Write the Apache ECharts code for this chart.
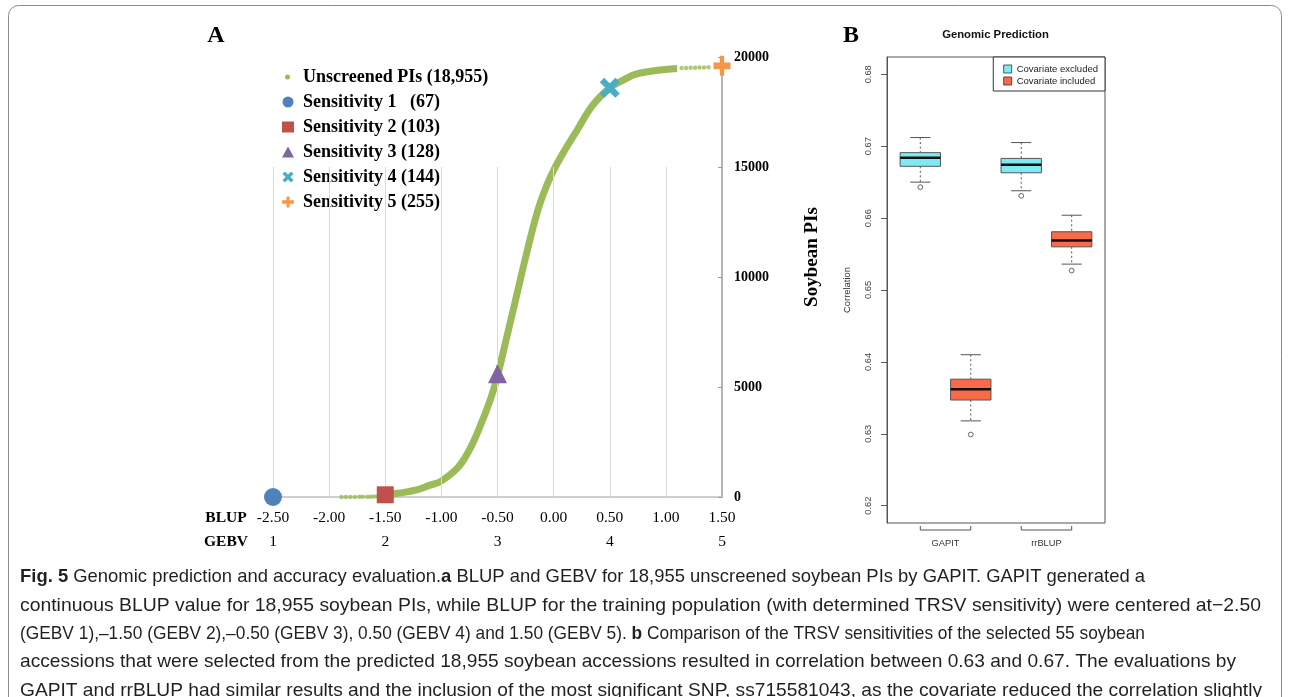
<!DOCTYPE html>
<html><head><meta charset="utf-8">
<script src="https://cdn.jsdelivr.net/npm/echarts@6/dist/echarts.min.js"></script>
<style>html,body{margin:0;padding:0;background:#fff}#c{width:1290px;height:697px}</style>
</head><body><div id="c"></div>
<script>
// ---------- Panel A data ----------
const blupTicks = [-2.5, -2, -1.5, -1, -0.5, 0, 0.5, 1, 1.5];
const gebvPositions = [-2.5, -1.5, -0.5, 0.5, 1.5];
const gebvLabels = ['1', '2', '3', '4', '5'];
const gridlineTop = 15000;
const curveBlup = [-1.50,-1.37,-1.22,-1.10,-1.01,-0.86,-0.76,-0.66,-0.56,-0.50,-0.43,-0.36,-0.24,-0.14,-0.06,0.01,0.10,0.21,0.35,0.50,0.62,0.74,0.95,1.10];
const curveRank = [110,180,320,540,700,1300,2050,3150,4480,5500,7000,8500,11090,13050,14180,14950,15770,16680,17820,18590,18950,19230,19410,19480];
const leftTailBlup = [-1.89,-1.85,-1.81,-1.77,-1.73,-1.70,-1.66,-1.63,-1.60,-1.57,-1.54];
const leftTailRank = [1,2,3,5,7,9,12,16,21,28,38];
const rightTailBlup = [1.14,1.18,1.22,1.26,1.30,1.34,1.38];
const rightTailRank = [19500,19505,19510,19515,19520,19525,19530];
const unscreenedName = 'Unscreened PIs (18,955)';
const sensitivityNames = ['Sensitivity 1   (67)', 'Sensitivity 2 (103)', 'Sensitivity 3 (128)', 'Sensitivity 4 (144)', 'Sensitivity 5 (255)'];
const sensitivityBlup = [-2.5, -1.5, -0.5, 0.5, 1.5];
const sensitivityRank = [0, 100, 5600, 18600, 19600];

// ---------- Panel B data ----------
const methodNames = ['GAPIT', 'rrBLUP'];
const covariateNames = ['Covariate excluded', 'Covariate included'];
const excludedPos = [1, 3];
const includedPos = [2, 4];
// [lower whisker, Q1, median, Q3, upper whisker]
const excludedStats = [[0.6650, 0.6672, 0.6684, 0.6691, 0.6712], [0.6638, 0.6663, 0.6674, 0.6683, 0.6705]];
const includedStats = [[0.6318, 0.6347, 0.6362, 0.6376, 0.6410], [0.6536, 0.6560, 0.6569, 0.6581, 0.6604]];
const excludedOutliers = [0.6643, 0.6631];
const includedOutliers = [0.6299, 0.6527];
const corrTicks = [0.62, 0.63, 0.64, 0.65, 0.66, 0.67, 0.68];
const corrMin = 0.6176, corrMax = 0.6824;

const captionLines = [
  '{b|Fig. 5} Genomic prediction and accuracy evaluation.{b|a} BLUP and GEBV for 18,955 unscreened soybean PIs by GAPIT. GAPIT generated a',
  'continuous BLUP value for 18,955 soybean PIs, while BLUP for the training population (with determined TRSV sensitivity) were centered at\u22122.50',
  '(GEBV 1),\u20131.50 (GEBV 2),\u20130.50 (GEBV 3), 0.50 (GEBV 4) and 1.50 (GEBV 5). {b|b} Comparison of the TRSV sensitivities of the selected 55 soybean',
  'accessions that were selected from the predicted 18,955 soybean accessions resulted in correlation between 0.63 and 0.67. The evaluations by',
  'GAPIT and rrBLUP had similar results and the inclusion of the most significant SNP, ss715581043, as the covariate reduced the correlation slightly'
];
const captionWidths = [1125, 1241, 1125, 1216, 1242];

// ---------- styles ----------
const serif = "'Liberation Serif','Times New Roman',serif";
const sans = "'Liberation Sans',Arial,sans-serif";
const capFont = "'Liberation Sans',Arial,sans-serif";
const capSize = 18.6;
const green = '#9BBB59';
const sensColors = ['#4F81BD', '#C0504D', '#8064A2', '#4BACC6', '#F79646'];
const xPath = 'path://M0,2.2L2.2,0L5,2.8L7.8,0L10,2.2L7.2,5L10,7.8L7.8,10L5,7.2L2.2,10L0,7.8L2.8,5Z';
const plusPath = 'path://M6,0H10V5H16V10H10V15H6V10H0V5H6Z';
const sensSymbols = ['circle', 'rect', 'triangle', xPath, plusPath];
const sensSizes = [18, 17, 19, 20, [17, 20]];
const boxColors = ['#7DEBF1', '#F96A4B'];

const chart = echarts.init(document.getElementById('c'));

// text measuring for caption fitting
const mctx = document.createElement('canvas').getContext('2d');
function measureRich(line) {
  let w = 0;
  const re = /\{b\|([^}]*)\}/g;
  let last = 0, m;
  while ((m = re.exec(line)) !== null) {
    mctx.font = capSize + 'px ' + capFont; w += mctx.measureText(line.slice(last, m.index)).width;
    mctx.font = 'bold ' + capSize + 'px ' + capFont; w += mctx.measureText(m[1]).width;
    last = re.lastIndex;
  }
  mctx.font = capSize + 'px ' + capFont; w += mctx.measureText(line.slice(last)).width;
  return w;
}

function boxRender(params, api) {
  const x = api.value(0);
  const v = [api.value(1), api.value(2), api.value(3), api.value(4), api.value(5)];
  const out = api.value(6);
  const bw = 0.4, cw = 0.2;
  const c = (a, b) => api.coord([a, b]);
  const stroke = '#555';
  const pMin = c(x, v[0]), pQ1 = c(x, v[1]), pQ3 = c(x, v[3]), pMax = c(x, v[4]);
  const capMinL = c(x - cw, v[0]), capMinR = c(x + cw, v[0]);
  const capMaxL = c(x - cw, v[4]), capMaxR = c(x + cw, v[4]);
  const tl = c(x - bw, v[3]), br = c(x + bw, v[1]);
  const mL = c(x - bw, v[2]), mR = c(x + bw, v[2]);
  const po = c(x, out);
  return {
    type: 'group',
    children: [
      {type: 'line', shape: {x1: pMax[0], y1: pMax[1], x2: pQ3[0], y2: pQ3[1]}, style: {stroke, lineWidth: 1, lineDash: [2, 2.5]}},
      {type: 'line', shape: {x1: pQ1[0], y1: pQ1[1], x2: pMin[0], y2: pMin[1]}, style: {stroke, lineWidth: 1, lineDash: [2, 2.5]}},
      {type: 'line', shape: {x1: capMaxL[0], y1: capMaxL[1], x2: capMaxR[0], y2: capMaxR[1]}, style: {stroke, lineWidth: 1}},
      {type: 'line', shape: {x1: capMinL[0], y1: capMinL[1], x2: capMinR[0], y2: capMinR[1]}, style: {stroke, lineWidth: 1}},
      {type: 'rect', shape: {x: tl[0], y: tl[1], width: br[0] - tl[0], height: br[1] - tl[1]}, style: {fill: api.visual('color'), stroke, lineWidth: 1}},
      {type: 'line', shape: {x1: mL[0], y1: mL[1], x2: mR[0], y2: mR[1]}, style: {stroke: '#111', lineWidth: 2.5}},
      {type: 'circle', shape: {cx: po[0], cy: po[1], r: 2.4}, style: {fill: 'none', stroke, lineWidth: 0.9}}
    ]
  };
}

function bracketRender(params, api) {
  const p1 = api.coord([api.value(0), corrMin]);
  const p2 = api.coord([api.value(1), corrMin]);
  const y0 = p1[1] + 7;
  return {
    type: 'group',
    children: [
      {type: 'polyline', shape: {points: [[p1[0], y0 - 4], [p1[0], y0], [p2[0], y0], [p2[0], y0 - 4]]}, style: {stroke: '#555', fill: 'none', lineWidth: 1}},
      {type: 'text', x: (p1[0] + p2[0]) / 2, y: y0 + 13, style: {text: methodNames[params.dataIndex], fill: '#333', font: '9.3px ' + sans, align: 'center', verticalAlign: 'middle', textAlign: 'center', textVerticalAlign: 'middle'}}
    ]
  };
}

const series = [];
series.push({
  name: unscreenedName, type: 'line', xAxisIndex: 0, yAxisIndex: 0,
  data: curveBlup.map((b, i) => [b, curveRank[i]]),
  smooth: 0.4, showSymbol: false, symbol: 'circle',
  lineStyle: {color: green, width: 7}, itemStyle: {color: green}, z: 3
});
series.push({
  name: unscreenedName, type: 'scatter', xAxisIndex: 0, yAxisIndex: 0,
  data: leftTailBlup.map((b, i) => [b, leftTailRank[i]]).concat(rightTailBlup.map((b, i) => [b, rightTailRank[i]])),
  symbol: 'circle', symbolSize: 4.5, itemStyle: {color: green}, z: 3
});
series.push({
  name: 'gridlines', type: 'line', xAxisIndex: 0, yAxisIndex: 0, data: [], z: 1, silent: true,
  markLine: {
    silent: true, symbol: 'none', label: {show: false},
    lineStyle: {color: '#d9d9d9', width: 1, type: 'solid'},
    data: blupTicks.filter(v => v < 1.5).map(v => [{coord: [v, 0]}, {coord: [v, gridlineTop]}])
  }
});
sensitivityNames.forEach((n, i) => {
  series.push({
    name: n, type: 'scatter', xAxisIndex: 0, yAxisIndex: 0,
    data: [[sensitivityBlup[i], sensitivityRank[i]]],
    symbol: sensSymbols[i], symbolSize: sensSizes[i],
    itemStyle: {color: sensColors[i], opacity: 1}, z: 5
  });
});
series.push({
  name: covariateNames[0], type: 'custom', xAxisIndex: 2, yAxisIndex: 1,
  data: methodNames.map((m, i) => [excludedPos[i]].concat(excludedStats[i], [excludedOutliers[i]])),
  encode: {x: 0, y: [1, 2, 3, 4, 5, 6]}, renderItem: boxRender, itemStyle: {color: boxColors[0]}, z: 4
});
series.push({
  name: covariateNames[1], type: 'custom', xAxisIndex: 2, yAxisIndex: 1,
  data: methodNames.map((m, i) => [includedPos[i]].concat(includedStats[i], [includedOutliers[i]])),
  encode: {x: 0, y: [1, 2, 3, 4, 5, 6]}, renderItem: boxRender, itemStyle: {color: boxColors[1]}, z: 4
});
series.push({
  name: 'groups', type: 'custom', xAxisIndex: 2, yAxisIndex: 1, clip: false, silent: true,
  data: methodNames.map((m, i) => [excludedPos[i], includedPos[i]]),
  encode: {x: [0, 1]}, renderItem: bracketRender, z: 4
});

const graphics = [
  {type: 'rect', shape: {x: 8.5, y: 5.5, width: 1273, height: 760, r: 10}, style: {fill: 'none', stroke: '#8a8a8a', lineWidth: 1}, z: 0},
  {type: 'text', x: 216, y: 36, style: {text: 'A', font: 'bold 24px ' + serif, fill: '#000', align: 'center', verticalAlign: 'middle', textAlign: 'center', textVerticalAlign: 'middle'}},
  {type: 'text', x: 851, y: 36, style: {text: 'B', font: 'bold 24px ' + serif, fill: '#000', align: 'center', verticalAlign: 'middle', textAlign: 'center', textVerticalAlign: 'middle'}},
  {type: 'text', x: 226, y: 518, style: {text: 'BLUP', font: 'bold 15.5px ' + serif, fill: '#000', align: 'center', verticalAlign: 'middle', textAlign: 'center', textVerticalAlign: 'middle'}},
  {type: 'text', x: 226, y: 542, style: {text: 'GEBV', font: 'bold 15.5px ' + serif, fill: '#000', align: 'center', verticalAlign: 'middle', textAlign: 'center', textVerticalAlign: 'middle'}},
  {type: 'text', x: 995.5, y: 35, style: {text: 'Genomic Prediction', font: 'bold 11.3px ' + sans, fill: '#111', align: 'center', verticalAlign: 'middle', textAlign: 'center', textVerticalAlign: 'middle'}},
  {type: 'text', x: 812, y: 257, rotation: Math.PI / 2, style: {text: 'Soybean PIs', font: 'bold 19px ' + serif, fill: '#000', align: 'center', verticalAlign: 'middle', textAlign: 'center', textVerticalAlign: 'middle'}}
];
captionLines.forEach((t, i) => {
  const sx = captionWidths[i] / measureRich(t);
  graphics.push({
    type: 'text', x: 20, y: 577 + i * 28.4, scaleX: sx, scaleY: 1, originX: 0, originY: 0,
    style: {
      text: t, font: capSize + 'px ' + capFont, fill: '#231f20',
      align: 'left', verticalAlign: 'middle', textAlign: 'left', textVerticalAlign: 'middle',
      rich: {b: {fontWeight: 'bold', fontSize: capSize, fontFamily: capFont, fill: '#231f20', color: '#231f20'}}
    }
  });
});

chart.setOption({
  animation: false,
  backgroundColor: '#fff',
  grid: [
    {left: 273, right: 568, top: 57, bottom: 200},
    {left: 887, right: 185, top: 57, bottom: 174, show: true, borderColor: '#555', borderWidth: 1}
  ],
  xAxis: [
    {gridIndex: 0, type: 'value', min: -2.5, max: 1.5, interval: 0.5,
     axisLine: {show: true, onZero: false, lineStyle: {color: '#bfbfbf', width: 1.5}},
     axisTick: {show: false}, splitLine: {show: false},
     axisLabel: {margin: 13, color: '#000', fontFamily: serif, fontSize: 15.5, formatter: v => v.toFixed(2)}},
    {gridIndex: 0, type: 'value', min: -2.5, max: 1.5, interval: 0.5, position: 'bottom', offset: 24,
     axisLine: {show: false, onZero: false}, axisTick: {show: false}, splitLine: {show: false},
     axisLabel: {margin: 13, color: '#000', fontFamily: serif, fontSize: 15.5,
       formatter: v => { const k = gebvPositions.findIndex(p => Math.abs(p - v) < 1e-9); return k >= 0 ? gebvLabels[k] : ''; }}},
    {gridIndex: 1, type: 'value', min: 0.34, max: 4.66, show: false}
  ],
  yAxis: [
    {gridIndex: 0, type: 'value', min: 0, max: 20000, interval: 5000, position: 'right',
     axisLine: {show: true, onZero: false, lineStyle: {color: '#b5b5b5', width: 2}},
     axisTick: {show: true, inside: true, length: 4, lineStyle: {color: '#999'}},
     splitLine: {show: false},
     axisLabel: {margin: 12, color: '#000', fontFamily: serif, fontWeight: 'bold', fontSize: 14, formatter: v => String(v)}},
    {gridIndex: 1, type: 'value', min: corrMin, max: corrMax,
     name: 'Correlation', nameLocation: 'middle', nameGap: 35, nameRotate: 90,
     nameTextStyle: {fontFamily: sans, fontSize: 9.4, color: '#333'},
     axisLine: {show: true, onZero: false, lineStyle: {color: '#555'}},
     axisTick: {show: true, length: 6, customValues: corrTicks, lineStyle: {color: '#555'}},
     axisLabel: {customValues: corrTicks, rotate: 90, margin: 14, color: '#444', fontFamily: sans, fontSize: 9.3, formatter: v => v.toFixed(2)},
     splitLine: {show: false}}
  ],
  legend: [
    {data: [{name: unscreenedName, icon: 'circle'}], left: 285, top: 67, padding: 0, itemWidth: 5, itemHeight: 5,
     selectedMode: false,
     textStyle: {fontFamily: serif, fontWeight: 'bold', fontSize: 18, lineHeight: 20, color: '#000', padding: [0, 0, 0, 8]}},
    {data: sensitivityNames, orient: 'vertical', left: 282, top: 92, padding: 0, itemWidth: 12, itemHeight: 11, itemGap: 5,
     selectedMode: false, backgroundColor: '#fff',
     textStyle: {fontFamily: serif, fontWeight: 'bold', fontSize: 18, lineHeight: 20, color: '#000', padding: [0, 0, 0, 4]}},
    {data: covariateNames.map(n => ({name: n, icon: 'rect'})), orient: 'vertical', right: 185, top: 57,
     padding: [7, 7, 5, 10], itemWidth: 8, itemHeight: 8, itemGap: 2, selectedMode: false,
     borderColor: '#333', borderWidth: 1, backgroundColor: '#fff',
     itemStyle: {borderColor: '#333', borderWidth: 0.8},
     textStyle: {fontFamily: sans, fontSize: 9.5, lineHeight: 10, color: '#222'}}
  ],
  graphic: {elements: graphics},
  series: series
});
</script>
</body></html>
